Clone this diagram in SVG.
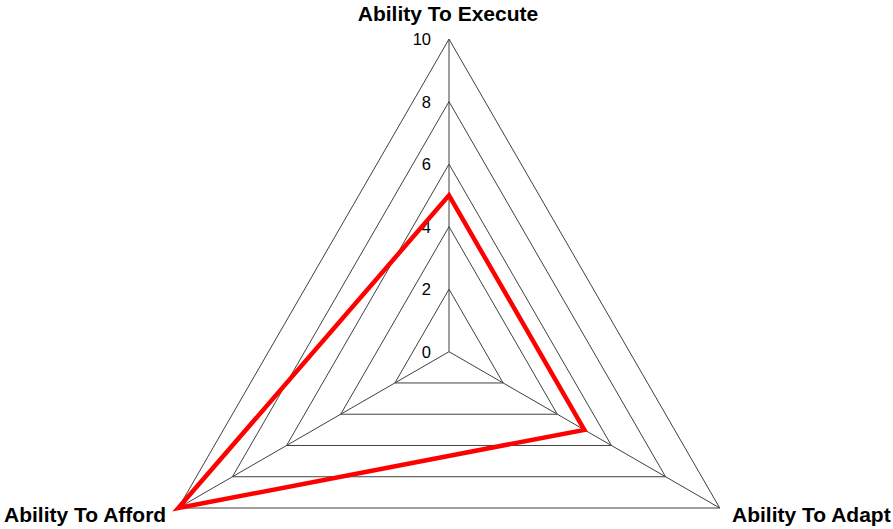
<svg xmlns="http://www.w3.org/2000/svg" width="893" height="529" viewBox="0 0 893 529">
<style>
.grid{fill:none;stroke:#404040;stroke-width:1}
.series{fill:none;stroke:#ff0000;stroke-width:4.5;stroke-linejoin:miter}
.tick{font-family:"Liberation Sans",Arial,sans-serif;font-size:16.5px;fill:#000;text-anchor:end}
.axis{font-family:"Liberation Sans",Arial,sans-serif;font-size:21px;font-weight:bold;fill:#000}
</style>
<rect width="893" height="529" fill="#fff"/>
<g id="grid">
<polygon class="grid" points="449,289.18 503.14,382.96 394.86,382.96"/>
<polygon class="grid" points="449,226.66 557.29,414.22 340.71,414.22"/>
<polygon class="grid" points="449,164.14 611.43,445.48 286.57,445.48"/>
<polygon class="grid" points="449,101.62 665.58,476.74 232.42,476.74"/>
<polygon class="grid" points="449,39.1 719.72,508 178.28,508"/>
</g>
<g id="connectors">
<line class="grid" x1="449" y1="351.7" x2="449" y2="39.1"/>
<line class="grid" x1="449" y1="351.7" x2="719.72" y2="508"/>
<line class="grid" x1="449" y1="351.7" x2="178.28" y2="508"/>
</g>
<g id="tick-labels">
<text class="tick" x="431" y="357.5">0</text>
<text class="tick" x="431" y="295">2</text>
<text class="tick" x="431" y="232.5">4</text>
<text class="tick" x="431" y="170">6</text>
<text class="tick" x="431" y="107.5">8</text>
<text class="tick" x="431" y="45">10</text>
</g>
<g id="series">
<polygon class="series" points="449,195.4 584.36,429.85 178.28,508"/>
</g>
<g id="node-execute"><text class="axis" x="448" y="21" text-anchor="middle">Ability To Execute</text></g>
<g id="node-afford"><text class="axis" x="4" y="522">Ability To Afford</text></g>
<g id="node-adapt"><text class="axis" x="732" y="522">Ability To Adapt</text></g>
</svg>
